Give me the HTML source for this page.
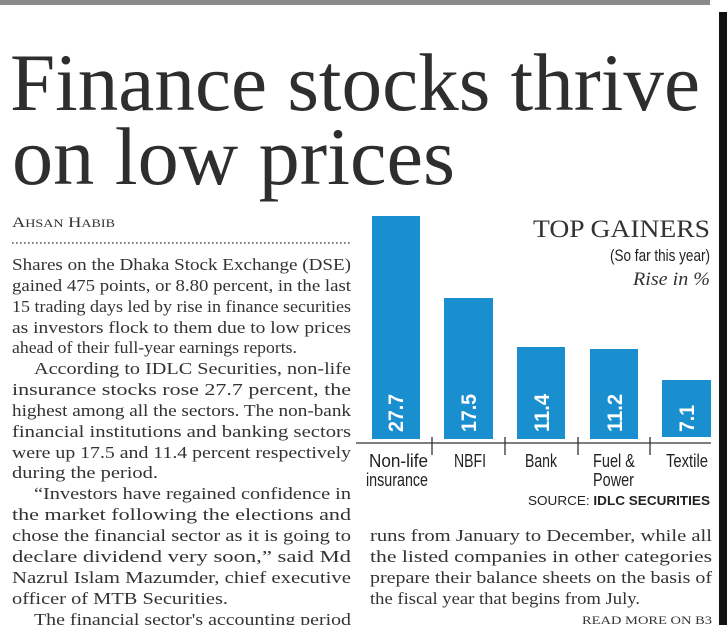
<!DOCTYPE html>
<html><head><meta charset="utf-8"><style>
html,body{margin:0;padding:0;background:#fff;}
svg{display:block}
.b{font-family:"Liberation Serif",serif;font-size:17px;fill:#333}
.c{font-family:"Liberation Sans Narrow","Liberation Sans",sans-serif;fill:#222}
</style></head><body>
<svg width="727" height="625" viewBox="0 0 727 625" xmlns="http://www.w3.org/2000/svg">
<rect x="0" y="0" width="710" height="5" fill="#8a8a8a"/>
<rect x="719" y="12" width="8" height="613" fill="#111"/>
<g font-family="Liberation Serif, serif" fill="#2e2e2e" font-size="82">
<text x="10" y="110" textLength="690" lengthAdjust="spacingAndGlyphs">Finance stocks thrive</text>
<text x="12" y="184" textLength="443" lengthAdjust="spacingAndGlyphs">on low prices</text>
</g>
<text x="12" y="227" font-family="Liberation Serif, serif" fill="#333" font-size="15" textLength="103" lengthAdjust="spacingAndGlyphs">A<tspan font-size="11.5">HSAN</tspan> H<tspan font-size="11.5">ABIB</tspan></text>
<line x1="12" y1="243" x2="351" y2="243" stroke="#555" stroke-width="1.6" stroke-dasharray="1.6 2.4"/>
<g class="b">
<text x="12" y="270" textLength="339" lengthAdjust="spacingAndGlyphs">Shares on the Dhaka Stock Exchange (DSE)</text>
<text x="12" y="291" textLength="339" lengthAdjust="spacingAndGlyphs">gained 475 points, or 8.80 percent, in the last</text>
<text x="12" y="312" textLength="339" lengthAdjust="spacingAndGlyphs">15 trading days led by rise in finance securities</text>
<text x="12" y="333" textLength="339" lengthAdjust="spacingAndGlyphs">as investors flock to them due to low prices</text>
<text x="12" y="353" textLength="285" lengthAdjust="spacingAndGlyphs">ahead of their full-year earnings reports.</text>
<text x="34" y="374" textLength="317" lengthAdjust="spacingAndGlyphs">According to IDLC Securities, non-life</text>
<text x="12" y="395" textLength="339" lengthAdjust="spacingAndGlyphs">insurance stocks rose 27.7 percent, the</text>
<text x="12" y="416" textLength="339" lengthAdjust="spacingAndGlyphs">highest among all the sectors. The non-bank</text>
<text x="12" y="437" textLength="339" lengthAdjust="spacingAndGlyphs">financial institutions and banking sectors</text>
<text x="12" y="458" textLength="339" lengthAdjust="spacingAndGlyphs">were up 17.5 and 11.4 percent respectively</text>
<text x="12" y="478" textLength="146" lengthAdjust="spacingAndGlyphs">during the period.</text>
<text x="34" y="499" textLength="317" lengthAdjust="spacingAndGlyphs">“Investors have regained confidence in</text>
<text x="12" y="520" textLength="339" lengthAdjust="spacingAndGlyphs">the market following the elections and</text>
<text x="12" y="541" textLength="339" lengthAdjust="spacingAndGlyphs">chose the financial sector as it is going to</text>
<text x="12" y="562" textLength="339" lengthAdjust="spacingAndGlyphs">declare dividend very soon,” said Md</text>
<text x="12" y="583" textLength="339" lengthAdjust="spacingAndGlyphs">Nazrul Islam Mazumder, chief executive</text>
<text x="12" y="604" textLength="216" lengthAdjust="spacingAndGlyphs">officer of MTB Securities.</text>
<text x="34" y="625" textLength="317" lengthAdjust="spacingAndGlyphs">The financial sector's accounting period</text>
<text x="370" y="541" textLength="342" lengthAdjust="spacingAndGlyphs">runs from January to December, while all</text>
<text x="370" y="562" textLength="342" lengthAdjust="spacingAndGlyphs">the listed companies in other categories</text>
<text x="370" y="583" textLength="342" lengthAdjust="spacingAndGlyphs">prepare their balance sheets on the basis of</text>
<text x="370" y="604" textLength="270" lengthAdjust="spacingAndGlyphs">the fiscal year that begins from July.</text>
</g>
<text x="582" y="624" font-family="Liberation Serif, serif" fill="#333" font-size="12" textLength="130" lengthAdjust="spacingAndGlyphs">READ MORE ON B3</text>
<!-- chart -->
<g fill="#1a8fd0">
<rect x="372" y="216" width="48" height="223"/>
<rect x="444" y="298" width="49" height="141"/>
<rect x="517" y="347" width="48" height="92"/>
<rect x="590" y="349" width="48" height="90"/>
<rect x="662" y="380" width="49" height="57"/>
</g>
<g font-family="Liberation Sans, sans-serif" font-weight="bold" font-size="21" fill="#fff">
<text transform="translate(403,432) rotate(-90)" textLength="38" lengthAdjust="spacingAndGlyphs">27.7</text>
<text transform="translate(476,432) rotate(-90)" textLength="38" lengthAdjust="spacingAndGlyphs">17.5</text>
<text transform="translate(549,432) rotate(-90)" textLength="38" lengthAdjust="spacingAndGlyphs">11.4</text>
<text transform="translate(622,432) rotate(-90)" textLength="38" lengthAdjust="spacingAndGlyphs">11.2</text>
<text transform="translate(694,432) rotate(-90)" textLength="27" lengthAdjust="spacingAndGlyphs">7.1</text>
</g>
<line x1="356" y1="443" x2="711" y2="443" stroke="#333" stroke-width="1.3"/>
<g stroke="#333" stroke-width="1.3">
<line x1="432" y1="437" x2="432" y2="455"/>
<line x1="505" y1="437" x2="505" y2="455"/>
<line x1="578" y1="437" x2="578" y2="455"/>
<line x1="650" y1="437" x2="650" y2="455"/>
</g>
<g class="c" font-size="18">
<text x="369" y="467" textLength="59" lengthAdjust="spacingAndGlyphs">Non-life</text>
<text x="366" y="486" textLength="62" lengthAdjust="spacingAndGlyphs">insurance</text>
<text x="454" y="467" textLength="32" lengthAdjust="spacingAndGlyphs">NBFI</text>
<text x="525" y="467" textLength="32" lengthAdjust="spacingAndGlyphs">Bank</text>
<text x="593" y="467" textLength="42" lengthAdjust="spacingAndGlyphs">Fuel &amp;</text>
<text x="593" y="486" textLength="41" lengthAdjust="spacingAndGlyphs">Power</text>
<text x="666" y="467" textLength="42" lengthAdjust="spacingAndGlyphs">Textile</text>
</g>
<text x="528" y="505" font-family="Liberation Sans, sans-serif" font-size="13" fill="#222" textLength="182" lengthAdjust="spacingAndGlyphs">SOURCE: <tspan font-weight="bold">IDLC SECURITIES</tspan></text>
<text x="533" y="237" font-family="Liberation Serif, serif" font-size="25" fill="#333" textLength="177" lengthAdjust="spacingAndGlyphs">TOP GAINERS</text>
<text x="610" y="261" class="c" font-size="17" textLength="100" lengthAdjust="spacingAndGlyphs">(So far this year)</text>
<text x="633" y="285" font-family="Liberation Serif, serif" font-style="italic" font-size="19" fill="#333" textLength="77" lengthAdjust="spacingAndGlyphs">Rise in %</text>
</svg>
</body></html>
